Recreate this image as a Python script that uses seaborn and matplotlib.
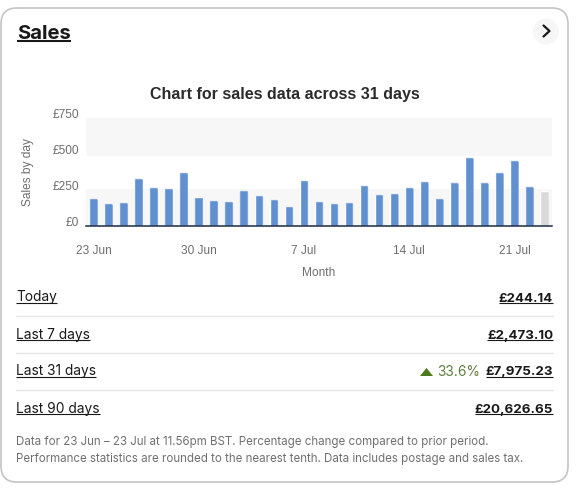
import matplotlib
matplotlib.use("Agg")
import matplotlib.pyplot as plt
import pandas as pd
import seaborn as sns
from matplotlib.patches import FancyBboxPatch, Circle, Polygon
from matplotlib.transforms import IdentityTransform, ScaledTranslation

# chart data
days = list(range(1, 32))
sales = [192, 157, 164, 331, 268, 262, 373, 204, 178, 171, 248, 213, 185, 137, 317, 171,
         157, 164, 282, 220, 227, 268, 310, 192, 303, 477, 303, 373, 456, 275, 244]
tick_pos = [0, 7, 14, 21, 28]
tick_labels = ["23 Jun", "30 Jun", "7 Jul", "14 Jul", "21 Jul"]
y_ticks = [0, 250, 500, 750]
y_labels = ["£0", "£250", "£500", "£750"]

rows = ["Today", "Last 7 days", "Last 31 days", "Last 90 days"]
row_values = ["£244.14", "£2,473.10", "£7,975.23", "£20,626.65"]
note_lines = ["Data for 23 Jun – 23 Jul at 11.56pm BST. Percentage change compared to prior period.",
              "Performance statistics are rounded to the nearest tenth. Data includes postage and sales tax."]

sns.set_theme(style="white")
plt.rcParams["font.family"] = ["Liberation Sans", "DejaVu Sans"]
CARD_FONT = "Inter"
W, H = 582, 496

fig = plt.figure(figsize=(W / 100, H / 100), dpi=100, facecolor="white")

# full figure layer in pixels for the card around the chart
bg = fig.add_axes([0, 0, 1, 1])
bg.set_xlim(0, W)
bg.set_ylim(H, 0)
bg.axis("off")
bg.add_patch(FancyBboxPatch((1, 8), 567, 474, boxstyle="round,pad=0,rounding_size=16",
                            fc="white", ec="#c4c4c4", lw=1.2))


def underlined(x, base, s, ha="left", size=9.9, weight="normal", gap=1.5, lw=0.8):
    t = bg.text(x, base, s, ha=ha, va="baseline", fontsize=size, fontweight=weight,
                family=CARD_FONT, color="#191919")
    bb = t.get_window_extent(fig.canvas.get_renderer())
    bg.plot([bb.x0, bb.x1], [base + gap] * 2, color="#191919", lw=lw, solid_capstyle="butt")
    return t


underlined(17, 39, "Sales", size=14.6, weight="bold", gap=2.2, lw=1.5)
bg.add_patch(Circle((546, 31.5), 13, fc="#f6f6f6", ec="none"))
bg.plot([543.5, 549.5, 543.5], [25.5, 31, 36.5], color="#191919", lw=1.6)

row_y = [301.5, 338.5, 375.5, 412.5]
for i, (name, val) in enumerate(zip(rows, row_values)):
    underlined(16, row_y[i], name)
    underlined(553, row_y[i], val, ha="right", weight="bold", size=9.6)
    if i < 3:
        bg.plot([16, 553], [row_y[i] + 14] * 2, color="#e5e5e5", lw=1)

bg.add_patch(Polygon([[420, 376], [433, 376], [426.5, 368]], fc="#4d7a1f", ec="none"))
bg.text(480, 375.5, "33.6%", ha="right", va="baseline", fontsize=9.9, family=CARD_FONT, color="#5f7f3f")

bg.text(16, 445, note_lines[0], va="baseline", fontsize=8.3, family=CARD_FONT, color="#707070")
bg.text(16, 462, note_lines[1], va="baseline", fontsize=8.3, family=CARD_FONT, color="#707070")

# the bar chart
ax = fig.add_axes([86 / W, 1 - 226 / H, 466 / W, 108 / H])
ax.patch.set_alpha(0)
df = pd.DataFrame({"day": days, "sales": sales})
colors = ["#6090d0"] * 30 + ["#d9d9d9"]
sns.barplot(data=df, x="day", y="sales", hue="day", palette=colors, legend=False,
            width=0.58, saturation=1, ax=ax, zorder=3)
# the shaded bands are not quite on the tick values in the picture
ax.axhspan(488, 750, color="#f7f7f7", lw=0, zorder=0)
ax.axhspan(0, 257, color="#f7f7f7", lw=0, zorder=0)
ax.set_xlim(-0.5, 30.5)
ax.set_ylim(0, 750)
sns.despine(ax=ax, left=True)
ax.spines["bottom"].set_color("#1c2b45")
ax.spines["bottom"].set_linewidth(1.1)
ax.spines["bottom"].set_zorder(5)

ax.set_xticks(tick_pos, tick_labels)
ax.set_yticks(y_ticks, y_labels)
ax.tick_params(axis="both", length=0, labelsize=8.6, labelcolor="#6e6e6e")
ax.tick_params(axis="x", pad=14)
ax.tick_params(axis="y", pad=5)
for lab in ax.get_yticklabels():
    lab.set_transform(lab.get_transform() + ScaledTranslation(0, 4 / 100, fig.dpi_scale_trans))

ax.set_xlabel("Month", fontsize=8.6, color="#6e6e6e")
ax.xaxis.set_label_coords((319 - 86) / 466, (226 - 273) / 108)
ax.xaxis.label.set_va("center")
ax.set_ylabel("Sales by day", fontsize=8.6, color="#6e6e6e")
ax.yaxis.set_label_coords((28 - 86) / 466, (226 - 172) / 108)
ax.yaxis.label.set_va("center")
ax.set_title("Chart for sales data across 31 days", fontsize=11.5, fontweight="bold",
             color="#2b2b2b", x=(285 - 86) / 466, y=(226 - 94.7) / 108, va="center", pad=0)

# round the top corners of the bars
fig.canvas.draw()
for bar in ax.patches:
    if bar.get_height() <= 0 or bar.get_width() >= 1:
        continue
    bb = bar.get_window_extent()
    clip = FancyBboxPatch((bb.x0, bb.y0 - 6), bb.width, bb.height + 6,
                          boxstyle="round,pad=0,rounding_size=2.5", transform=IdentityTransform())
    bar.set_clip_path(clip)

fig.savefig("out.png", dpi=100)
